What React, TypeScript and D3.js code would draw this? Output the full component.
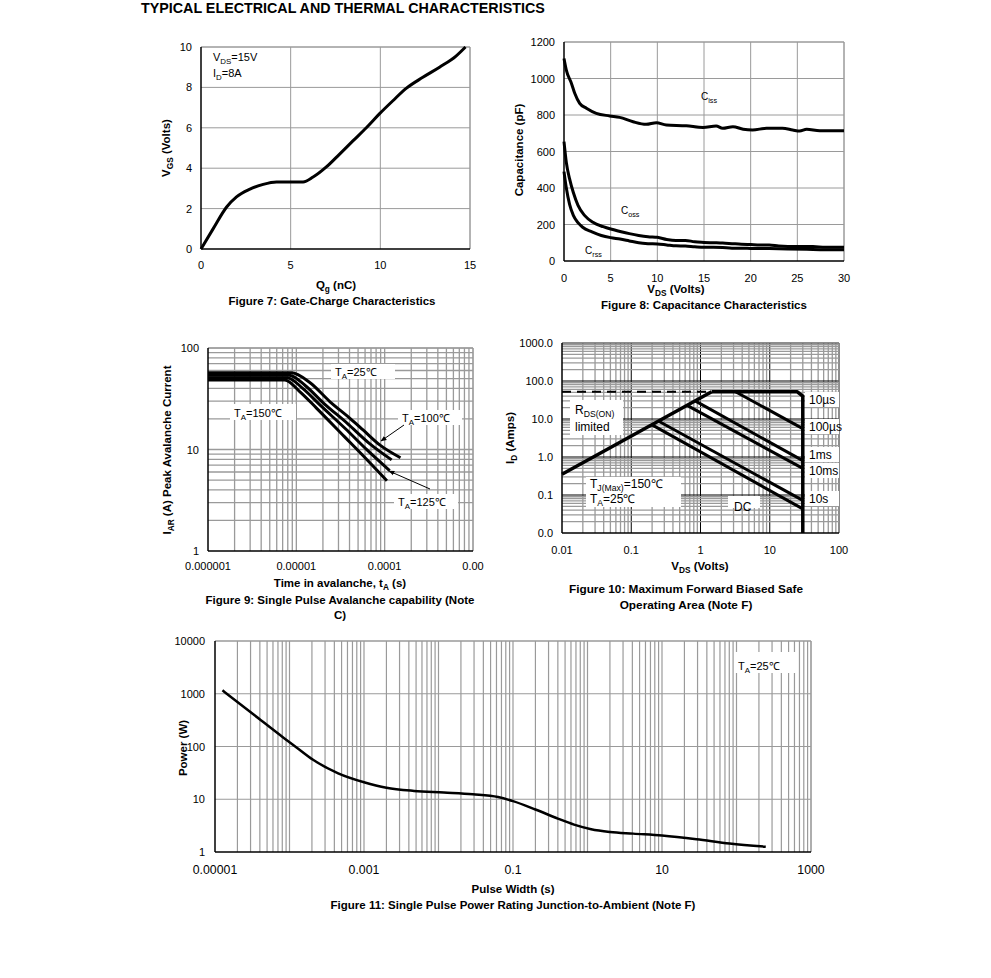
import React from "react";
import * as d3 from "d3";

type Pt = [number, number];

// ---- Figure 7: gate charge ----
const qgNc = [0, 0.69, 1.43, 1.98, 2.73, 3.47, 4.21, 5.14, 5.69, 6.25, 6.99, 7.73, 8.47, 9.22, 9.96, 10.7, 11.44, 12.37, 13.3, 14.22, 14.75];
const vgsVolts = [0, 1.02, 2.08, 2.58, 2.96, 3.2, 3.32, 3.32, 3.32, 3.56, 4.06, 4.7, 5.35, 6.0, 6.7, 7.34, 7.95, 8.5, 9.0, 9.55, 10];
const fig7XTicks = [0, 5, 10, 15];
const fig7YTicks = [0, 2, 4, 6, 8, 10];

// ---- Figure 8: capacitance ----
const cissV = [0, 0.25, 0.8, 1.15, 1.68, 2.4, 3.46, 4.9, 5.96, 7.4, 8.8, 9.9, 10.96, 13.1, 14.9, 16.3, 17, 18.1, 19.2, 20.2, 21.7, 23.4, 24.5, 25.25, 26, 27.4, 30];
const cissPf = [1110, 1046, 973, 919, 864, 837, 809, 795, 787, 763, 749, 758, 745, 741, 732, 740, 727, 736, 722, 718, 727, 727, 718, 712, 722, 714, 714];
const cossV = [0, 0.25, 0.6, 1, 1.5, 2.2, 3.1, 4.2, 5, 6, 7, 8, 9, 10, 11, 12, 13, 14, 15, 16, 17, 18, 19, 20, 21, 22, 23, 24, 25, 26, 27, 28, 29, 30];
const cossPf = [654, 540, 450, 375, 305, 250, 212, 188, 175, 162, 150, 140, 133, 130, 118, 112, 113, 105, 102, 100, 98, 95, 92, 90, 88, 88, 82, 80, 80, 80, 78, 76, 76, 76];
const crssV = [0, 0.25, 0.6, 1, 1.5, 2, 3, 4, 5, 6, 7, 8, 9, 10, 11, 12, 13, 14, 15, 16, 17, 18, 19, 20, 22, 24, 26, 28, 30];
const crssPf = [490, 400, 310, 250, 210, 185, 160, 140, 128, 120, 110, 100, 95, 93, 88, 83, 82, 78, 75, 76, 74, 70, 70, 69, 68, 66, 64, 62, 62];
const fig8XTicks = [0, 5, 10, 15, 20, 25, 30];
const fig8YTicks = [0, 200, 400, 600, 800, 1000, 1200];

// ---- Figure 9: avalanche ----
const av25T = [1e-6, 8.8e-6, 1.42e-5, 2.39e-5, 4.02e-5, 5.69e-5, 8.79e-5, 1.51e-4];
const av25I = [57, 57, 45.7, 29.7, 20.4, 15.6, 11.1, 8.3];
const av100T = [1e-6, 8.3e-6, 1.25e-5, 2.0e-5, 3.8e-5, 6.7e-5, 1.2e-4];
const av100I = [54, 54, 43, 29, 18, 11.5, 7.9];
const av125T = [1e-6, 7.9e-6, 1.18e-5, 1.85e-5, 3.6e-5, 6.4e-5, 1.14e-4];
const av125I = [51, 51, 40, 27.5, 16, 9.8, 6.2];
const av150T = [1e-6, 7.4e-6, 1.1e-5, 1.69e-5, 3.5e-5, 6e-5, 1.06e-4];
const av150I = [48.5, 48.5, 37, 25.6, 13.4, 8.3, 4.93];
const fig9XTicks = [1e-6, 1e-5, 1e-4, 1e-3];
const fig9XLabels = ["0.000001", "0.00001", "0.0001", "0.00"];
const fig9YTicks = [1, 10, 100];

// ---- Figure 10: SOA ----
const rdsLimit: Pt[] = [[0.01, 0.35], [1.45, 52]];
const rdsDashed: Pt[] = [[0.01, 52], [1.45, 52]];
const soa10us: Pt[] = [[1.45, 52], [25, 52], [30, 40], [30, 0.01]];
const soa100us: Pt[] = [[3.2, 52], [30, 5.6]];
const soa1ms: Pt[] = [[0.85, 29.5], [30, 0.8]];
const soa10ms: Pt[] = [[0.65, 22.5], [30, 0.5]];
const soa10s: Pt[] = [[0.25, 8.7], [30, 0.072]];
const soaDC: Pt[] = [[0.2, 7], [30, 0.043]];
const fig10XTicks = [0.01, 0.1, 1, 10, 100];
const fig10XLabels = ["0.01", "0.1", "1", "10", "100"];
const fig10YTicks = [0.01, 0.1, 1, 10, 100, 1000];
const fig10YLabels = ["0.0", "0.1", "1.0", "10.0", "100.0", "1000.0"];

// ---- Figure 11: single pulse power ----
const pulseT = [1.26e-5, 3.4e-5, 8.3e-5, 1.23e-4, 2.07e-4, 4.5e-4, 1e-3, 2e-3, 4.7e-3, 0.0118, 0.029, 0.063, 0.1, 0.2, 0.4, 0.66, 1.12, 2, 4.1, 10, 29, 81, 247];
const pulseP = [1160, 390, 147, 97, 56, 31, 21, 16.5, 14.4, 13.4, 12.4, 11, 9.2, 6.4, 4.3, 3.3, 2.7, 2.4, 2.23, 2.05, 1.75, 1.45, 1.26];
const fig11XTicks = [1e-5, 1e-3, 0.1, 10, 1000];
const fig11XLabels = ["0.00001", "0.001", "0.1", "10", "1000"];
const fig11YTicks = [1, 10, 100, 1000, 10000];
const fig11YLabels = ["1", "10", "100", "1000", "10000"];

const FONT = "Arial, 'Liberation Sans', Helvetica, sans-serif";
const GRID = "#9a9a9a";
const TICK = 11;
const TITLE = 11.5;

const zip = (xs: number[], ys: number[]): Pt[] => xs.map((x, i) => [x, ys[i]]);

function logValues(e0: number, e1: number) {
  const out: number[] = [];
  for (let e = e0; e < e1; e++) for (let k = 1; k < 10; k++) out.push(k * Math.pow(10, e));
  out.push(Math.pow(10, e1));
  return out;
}
const isDecade = (t: number) => Math.abs(Math.log10(t) - Math.round(Math.log10(t))) < 1e-6;

function Sub({ children }: { children: React.ReactNode }) {
  return <tspan fontSize="0.72em" dy={3}>{children}</tspan>;
}
function Up({ children }: { children: React.ReactNode }) {
  return <tspan dy={-3}>{children}</tspan>;
}

function Frame({ x0, x1, y0, y1 }: { x0: number; x1: number; y0: number; y1: number }) {
  return (
    <g>
      <line x1={x0} x2={x1} y1={y1} y2={y1} stroke={GRID} />
      <line x1={x1} x2={x1} y1={y0} y2={y1} stroke={GRID} />
      <line x1={x0} x2={x0} y1={y0} y2={y1} stroke="#000" strokeWidth={1.5} />
      <line x1={x0} x2={x1} y1={y0} y2={y0} stroke="#000" strokeWidth={1.5} />
    </g>
  );
}

function Fig7() {
  const x = d3.scaleLinear().domain([0, 15]).range([201, 470]);
  const y = d3.scaleLinear().domain([0, 10]).range([249, 47]);
  const line = d3.line<Pt>().x(d => x(d[0])).y(d => y(d[1])).curve(d3.curveMonotoneX);
  return (
    <g>
      {fig7XTicks.slice(1).map(t => <line key={"v" + t} x1={x(t)} x2={x(t)} y1={y(0)} y2={y(10)} stroke={GRID} />)}
      {fig7YTicks.slice(1).map(t => <line key={"h" + t} x1={x(0)} x2={x(15)} y1={y(t)} y2={y(t)} stroke={GRID} />)}
      <Frame x0={x(0)} x1={x(15)} y0={y(0)} y1={y(10)} />
      <path d={line(zip(qgNc, vgsVolts)) ?? ""} fill="none" stroke="#000" strokeWidth={3} strokeLinejoin="round" />
      {fig7XTicks.map(t => <text key={"xt" + t} x={x(t)} y={269} textAnchor="middle" fontSize={TICK}>{t}</text>)}
      {fig7YTicks.map(t => <text key={"yt" + t} x={192} y={y(t) + 4} textAnchor="end" fontSize={TICK}>{t}</text>)}
      <text x={213} y={61} fontSize={TICK}>V<Sub>DS</Sub><Up>=15V</Up></text>
      <text x={213} y={77} fontSize={TICK}>I<Sub>D</Sub><Up>=8A</Up></text>
      <text x={336} y={289} textAnchor="middle" fontSize={TITLE} fontWeight="bold">Q<Sub>g</Sub><Up> (nC)</Up></text>
      <text x={332} y={305} textAnchor="middle" fontSize={TITLE} fontWeight="bold">Figure 7: Gate-Charge Characteristics</text>
      <text transform="translate(170,148) rotate(-90)" textAnchor="middle" fontSize={TITLE} fontWeight="bold">V<Sub>GS</Sub><Up> (Volts)</Up></text>
    </g>
  );
}

function Fig8() {
  const x = d3.scaleLinear().domain([0, 30]).range([564, 844]);
  const y = d3.scaleLinear().domain([0, 1200]).range([261, 42]);
  const line = d3.line<Pt>().x(d => x(d[0])).y(d => y(d[1])).curve(d3.curveMonotoneX);
  const series = [zip(cissV, cissPf), zip(cossV, cossPf), zip(crssV, crssPf)];
  return (
    <g>
      {fig8XTicks.slice(1).map(t => <line key={"v" + t} x1={x(t)} x2={x(t)} y1={y(0)} y2={y(1200)} stroke={GRID} />)}
      {fig8YTicks.slice(1).map(t => <line key={"h" + t} x1={x(0)} x2={x(30)} y1={y(t)} y2={y(t)} stroke={GRID} />)}
      <Frame x0={x(0)} x1={x(30)} y0={y(0)} y1={y(1200)} />
      {series.map((s, i) => <path key={i} d={line(s) ?? ""} fill="none" stroke="#000" strokeWidth={3} strokeLinejoin="round" />)}
      {fig8XTicks.map(t => <text key={"xt" + t} x={x(t)} y={282} textAnchor="middle" fontSize={TICK}>{t}</text>)}
      {fig8YTicks.map(t => <text key={"yt" + t} x={555} y={y(t) + 4} textAnchor="end" fontSize={TICK}>{t}</text>)}
      <text x={701} y={100} fontSize={TICK - 1}>C<Sub>iss</Sub></text>
      <text x={621} y={214} fontSize={TICK - 1}>C<Sub>oss</Sub></text>
      <text x={585} y={254} fontSize={TICK - 1}>C<Sub>rss</Sub></text>
      <text x={676} y={293} textAnchor="middle" fontSize={TITLE} fontWeight="bold">V<Sub>DS</Sub><Up> (Volts)</Up></text>
      <text x={704} y={309} textAnchor="middle" fontSize={TITLE} fontWeight="bold">Figure 8: Capacitance Characteristics</text>
      <text transform="translate(523,150) rotate(-90)" textAnchor="middle" fontSize={TITLE} fontWeight="bold">Capacitance (pF)</text>
    </g>
  );
}

function Label({ x, y, w, h, children, size = TICK }: { x: number; y: number; w: number; h: number; children: React.ReactNode; size?: number }) {
  return (
    <g>
      <rect x={x} y={y} width={w} height={h} fill="#fff" />
      <text x={x + 4} y={y + h - 3} fontSize={size}>{children}</text>
    </g>
  );
}

function Fig9() {
  const x = d3.scaleLog().domain([1e-6, 1e-3]).range([208, 473]);
  const y = d3.scaleLog().domain([1, 100]).range([551, 348]);
  const line = d3.line<Pt>().x(d => x(d[0])).y(d => y(d[1])).curve(d3.curveMonotoneX);
  const series = [zip(av25T, av25I), zip(av100T, av100I), zip(av125T, av125I), zip(av150T, av150I)];
  return (
    <g>
      <defs>
        <marker id="arr9" viewBox="0 0 10 10" refX={9} refY={5} markerWidth={6} markerHeight={6} orient="auto">
          <path d="M0,1 L10,5 L0,9 z" fill="#000" />
        </marker>
      </defs>
      {logValues(-6, -3).slice(1).map((t, i) => <line key={"v" + i} x1={x(t)} x2={x(t)} y1={y(1)} y2={y(100)} stroke={GRID} strokeWidth={1.3} />)}
      {logValues(0, 2).slice(1).map((t, i) => <line key={"h" + i} x1={x(1e-6)} x2={x(1e-3)} y1={y(t)} y2={y(t)} stroke={GRID} strokeWidth={1.3} />)}
      <Frame x0={x(1e-6)} x1={x(1e-3)} y0={y(1)} y1={y(100)} />
      {series.map((s, i) => <path key={i} d={line(s) ?? ""} fill="none" stroke="#000" strokeWidth={3} strokeLinejoin="round" />)}
      <Label x={331} y={364} w={64} h={15}>T<Sub>A</Sub><Up>=25℃</Up></Label>
      <Label x={230} y={404} w={66} h={16}>T<Sub>A</Sub><Up>=150℃</Up></Label>
      <Label x={398} y={410} w={64} h={15}>T<Sub>A</Sub><Up>=100℃</Up></Label>
      <Label x={394} y={494} w={64} h={15}>T<Sub>A</Sub><Up>=125℃</Up></Label>
      <line x1={404} y1={425} x2={381} y2={441} stroke="#000" strokeWidth={1} markerEnd="url(#arr9)" />
      <line x1={430} y1={489} x2={389} y2={471} stroke="#000" strokeWidth={1} markerEnd="url(#arr9)" />
      {fig9XTicks.map((t, i) => <text key={"xt" + i} x={x(t)} y={570} textAnchor="middle" fontSize={TICK}>{fig9XLabels[i]}</text>)}
      {fig9YTicks.map(t => <text key={"yt" + t} x={199} y={y(t) + 4} textAnchor="end" fontSize={TICK}>{t}</text>)}
      <text x={340} y={587} textAnchor="middle" fontSize={TITLE} fontWeight="bold">Time in avalanche, t<Sub>A</Sub><Up> (s)</Up></text>
      <text x={340} y={604} textAnchor="middle" fontSize={TITLE} fontWeight="bold">Figure 9: Single Pulse Avalanche capability (Note</text>
      <text x={340} y={619} textAnchor="middle" fontSize={TITLE} fontWeight="bold">C)</text>
      <text transform="translate(171,450) rotate(-90)" textAnchor="middle" fontSize={TITLE} fontWeight="bold">I<Sub>AR</Sub><Up> (A) Peak Avalanche Current</Up></text>
    </g>
  );
}

function Fig10() {
  const x = d3.scaleLog().domain([0.01, 100]).range([562, 839]);
  const y = d3.scaleLog().domain([0.01, 1000]).range([533, 343]);
  const line = d3.line<Pt>().x(d => x(d[0])).y(d => y(d[1]));
  const thick = [soa10us, soa100us, soa1ms, soa10ms, soa10s, soaDC];
  return (
    <g>
      {logValues(-2, 2).slice(1).map((t, i) => (
        <line key={"v" + i} x1={x(t)} x2={x(t)} y1={y(0.01)} y2={y(1000)} stroke={isDecade(t) ? "#000" : GRID} strokeWidth={isDecade(t) ? 1 : 1.3} />
      ))}
      {logValues(-2, 3).slice(1).map((t, i) => (
        <line key={"h" + i} x1={x(0.01)} x2={x(100)} y1={y(t)} y2={y(t)} stroke={isDecade(t) ? "#000" : GRID} strokeWidth={isDecade(t) ? 1 : 1.3} />
      ))}
      <Frame x0={x(0.01)} x1={x(100)} y0={y(0.01)} y1={y(1000)} />
      <path d={line(rdsDashed) ?? ""} fill="none" stroke="#000" strokeWidth={2} strokeDasharray="9 6" />
      <path d={line(rdsLimit) ?? ""} fill="none" stroke="#000" strokeWidth={3.5} />
      {thick.map((s, i) => <path key={i} d={line(s) ?? ""} fill="none" stroke="#000" strokeWidth={i === 0 ? 3.5 : 3} strokeLinejoin="round" />)}
      <rect x={570} y={400} width={53} height={35} fill="#fff" />
      <text x={575} y={414} fontSize={12}>R<Sub>DS(ON)</Sub></text>
      <text x={575} y={431} fontSize={12}>limited</text>
      <rect x={586} y={477} width={95} height={30} fill="#fff" />
      <text x={590} y={488} fontSize={12}>T<Sub>J(Max)</Sub><Up>=150℃</Up></text>
      <text x={590} y={503} fontSize={12}>T<Sub>A</Sub><Up>=25℃</Up></text>
      <rect x={728} y={496} width={32} height={12} fill="#fff" />
      <text x={734} y={511} fontSize={12}>DC</text>
      <Label x={805} y={392} w={34} h={15} size={12}>10µs</Label>
      <Label x={805} y={419} w={34} h={15} size={12}>100µs</Label>
      <Label x={805} y={447} w={34} h={15} size={12}>1ms</Label>
      <Label x={805} y={463} w={34} h={15} size={12}>10ms</Label>
      <Label x={805} y={491} w={34} h={15} size={12}>10s</Label>
      {fig10XTicks.map((t, i) => <text key={"xt" + i} x={x(t)} y={554} textAnchor="middle" fontSize={TICK}>{fig10XLabels[i]}</text>)}
      {fig10YTicks.map((t, i) => <text key={"yt" + i} x={553} y={y(t) + 4} textAnchor="end" fontSize={TICK}>{fig10YLabels[i]}</text>)}
      <text x={700} y={570} textAnchor="middle" fontSize={TITLE} fontWeight="bold">V<Sub>DS</Sub><Up> (Volts)</Up></text>
      <text x={686} y={593} textAnchor="middle" fontSize={11.8} fontWeight="bold">Figure 10: Maximum Forward Biased Safe</text>
      <text x={686} y={609} textAnchor="middle" fontSize={11.8} fontWeight="bold">Operating Area (Note F)</text>
      <text transform="translate(514,438) rotate(-90)" textAnchor="middle" fontSize={TITLE} fontWeight="bold">I<Sub>D</Sub><Up> (Amps)</Up></text>
    </g>
  );
}

function Fig11() {
  const x = d3.scaleLog().domain([1e-5, 1000]).range([215, 811]);
  const y = d3.scaleLog().domain([1, 10000]).range([852, 641]);
  const line = d3.line<Pt>().x(d => x(d[0])).y(d => y(d[1])).curve(d3.curveMonotoneX);
  return (
    <g>
      {logValues(-5, 3).slice(1).map((t, i) => <line key={"v" + i} x1={x(t)} x2={x(t)} y1={y(1)} y2={y(10000)} stroke={GRID} strokeWidth={1.2} />)}
      {fig11YTicks.slice(1).map(t => <line key={"h" + t} x1={x(1e-5)} x2={x(1000)} y1={y(t)} y2={y(t)} stroke={GRID} strokeWidth={1.2} />)}
      <Frame x0={x(1e-5)} x1={x(1000)} y0={y(1)} y1={y(10000)} />
      <path d={line(zip(pulseT, pulseP)) ?? ""} fill="none" stroke="#000" strokeWidth={2.5} strokeLinejoin="round" />
      <Label x={734} y={652} w={64} h={21}>T<Sub>A</Sub><Up>=25℃</Up></Label>
      {fig11XTicks.map((t, i) => <text key={"xt" + i} x={x(t)} y={874} textAnchor="middle" fontSize={12.3}>{fig11XLabels[i]}</text>)}
      {fig11YTicks.map((t, i) => <text key={"yt" + i} x={205} y={y(t) + 4} textAnchor="end" fontSize={TICK}>{fig11YLabels[i]}</text>)}
      <text x={513} y={893} textAnchor="middle" fontSize={TITLE} fontWeight="bold">Pulse Width (s)</text>
      <text x={513} y={909} textAnchor="middle" fontSize={TITLE} fontWeight="bold">Figure 11: Single Pulse Power Rating Junction-to-Ambient (Note F)</text>
      <text transform="translate(187,748) rotate(-90)" textAnchor="middle" fontSize={TITLE} fontWeight="bold">Power (W)</text>
    </g>
  );
}

export default function App() {
  return (
    <div style={{ position: "absolute", left: 0, top: 0 }}>
      <svg width={991} height={978} viewBox="0 0 991 978" fontFamily={FONT} style={{ display: "block", background: "#fff" }}>
        <text x={141} y={13} fontSize={14.3} fontWeight="bold">TYPICAL ELECTRICAL AND THERMAL CHARACTERISTICS</text>
        <Fig7 />
        <Fig8 />
        <Fig9 />
        <Fig10 />
        <Fig11 />
      </svg>
    </div>
  );
}
